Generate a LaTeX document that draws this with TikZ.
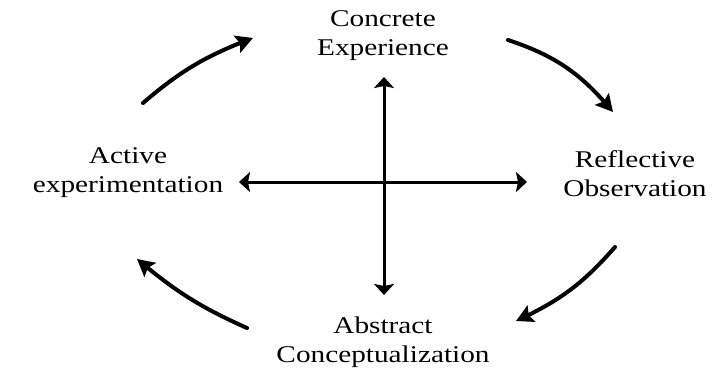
\documentclass[tikz,border=0pt]{standalone}
\usepackage{fontspec}
\setmainfont{Liberation Serif}[FakeStretch=1.22]
\usetikzlibrary{arrows.meta,bending}
\begin{document}
\begin{tikzpicture}[x=1pt,y=1pt,
  stage/.style={align=center,font=\fontsize{24}{29}\selectfont,inner sep=0pt},
  cycle/.style={line width=4pt,line cap=round,-{Stealth[length=17pt,width=18pt,inset=3pt]}},
  axis/.style={line width=3pt,{Stealth[length=11pt,width=20pt,inset=2pt]}-{Stealth[length=11pt,width=20pt,inset=2pt]}}]
\useasboundingbox (0,0) rectangle (714,-381);
% the four stages of the learning cycle
\node[stage] (ce) at (383,-36) {Concrete\\Experience};
\node[stage] (ro) at (635,-174) {Reflective\\Observation};
\node[stage] (ac) at (383,-342) {Abstract\\Conceptualization};
\node[stage] (ae) at (128,-173) {Active\\experimentation};
% ends of the two axes
\coordinate (vtop) at (384,-77);
\coordinate (vbot) at (384,-295);
\coordinate (hl) at (239,-182);
\coordinate (hr) at (527,-182);
\draw[axis] (vtop) -- (vbot);
\draw[axis] (hl) -- (hr);
% ends of the cycle arrows
\coordinate (a1) at (143,-103);
\coordinate (b1) at (253,-38);
\coordinate (a2) at (508,-40);
\coordinate (b2) at (613,-112);
\coordinate (a3) at (615,-247);
\coordinate (b3) at (516,-321);
\coordinate (a4) at (247,-328);
\coordinate (b4) at (137,-259);
\draw[cycle] (a1) to[bend left=10] (b1);
\draw[cycle] (a2) to[bend left=16] (b2);
\draw[cycle] (a3) to[bend left=12] (b3);
\draw[cycle] (a4) to[bend left=8] (b4);
\end{tikzpicture}
\end{document}
